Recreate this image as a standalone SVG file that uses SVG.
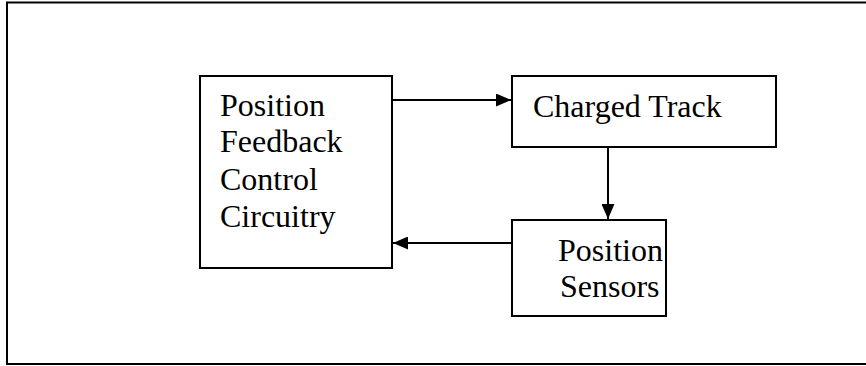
<svg xmlns="http://www.w3.org/2000/svg" width="866" height="366" viewBox="0 0 866 366">
<style>
.box{fill:#fff;stroke:#000;stroke-width:2}
.t{font-family:"Liberation Serif",serif;font-size:32px;fill:#000}
.c{stroke:#000;stroke-width:2;fill:none}
</style>
<defs>
<marker id="ah" markerWidth="15" markerHeight="13" refX="15" refY="6.5" orient="auto" markerUnits="userSpaceOnUse">
<path d="M0,0 L15,6.5 L0,13 Z" fill="#000"/>
</marker>
</defs>
<rect x="0" y="0" width="866" height="366" fill="#fff"/>
<rect x="7" y="2.5" width="870" height="361.5" fill="none" stroke="#000" stroke-width="2"/>
<g id="n1">
<rect class="box" x="200" y="76" width="192" height="192"/>
<text class="t" x="220" y="116">Position</text>
<text class="t" x="220" y="152">Feedback</text>
<text class="t" x="220" y="190">Control</text>
<text class="t" x="220" y="227">Circuitry</text>
</g>
<g id="n2">
<rect class="box" x="512" y="76" width="264" height="71"/>
<text class="t" x="533" y="117">Charged Track</text>
</g>
<g id="n3">
<rect class="box" x="512" y="220" width="154" height="96"/>
<text class="t" x="558" y="261">Position</text>
<text class="t" x="560" y="297">Sensors</text>
</g>
<g id="connectors">
<line class="c" x1="392" y1="100" x2="511" y2="100" marker-end="url(#ah)"/>
<line class="c" x1="608" y1="147" x2="608" y2="219" marker-end="url(#ah)"/>
<line class="c" x1="512" y1="243" x2="393" y2="243" marker-end="url(#ah)"/>
</g>
</svg>
